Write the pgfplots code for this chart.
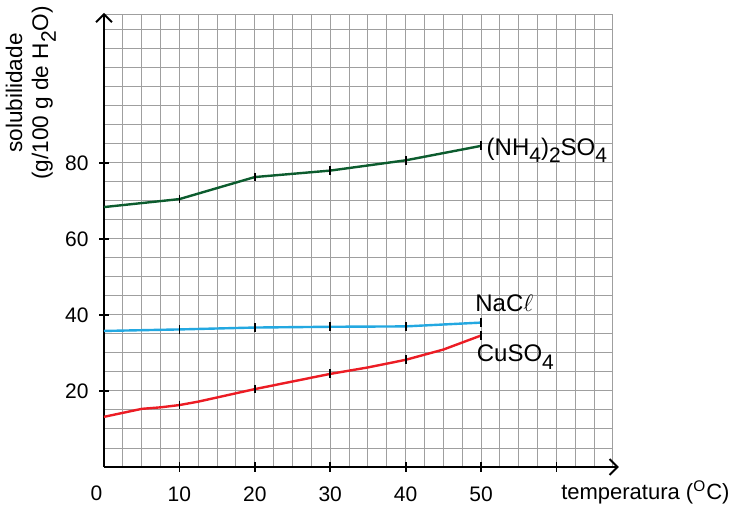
\documentclass[border=0pt]{standalone}
\usepackage{pgfplots}
\pgfplotsset{compat=1.18}
\usetikzlibrary{arrows.meta}
\usepackage{fontspec}
\setmainfont{Liberation Sans}
\definecolor{cgreen}{RGB}{12,92,46}
\definecolor{cblue}{RGB}{35,168,225}
\definecolor{cred}{RGB}{236,28,36}
\newcommand\sub[1]{\raisebox{-3.8pt}{\fontsize{10.5}{11}\selectfont #1}}
\begin{document}
\begin{tikzpicture}
\useasboundingbox (-52pt,-20pt) rectangle (313.5pt,233.5pt);
\begin{axis}[
  at={(0,0)}, anchor=south west,
  x=3.77pt, y=1.9pt,
  xmin=0, xmax=67.5, ymin=0, ymax=119,
  axis lines=left,
  clip=false,
  axis line style={line width=1pt, -{Straight Barb[length=4pt,width=8pt,line width=1pt]}},
  x axis line style={shorten >=-3pt},
  y axis line style={shorten >=-1pt},
  xtick={10,20,30,40,50,60},
  xticklabels={10,20,30,40,50,{}},
  ytick={20,40,60,80},
  minor xtick={2.5,5,...,67.5},
  minor ytick={5,10,...,115,119},
  grid=both,
  major grid style={gray!75, line width=0.5pt},
  minor grid style={gray!75, line width=0.5pt},
  tick align=center,
  major tick length=4.5pt,
  minor tick length=0pt,
  tick style={black, line width=0.9pt},
  /pgf/number format/assume math mode=true,
  tick label style={font=\fontsize{10.5}{12}\selectfont},
  xticklabel style={yshift=-4pt},
  yticklabel style={xshift=-2pt},
]
\addplot[cgreen, line width=1.2pt] coordinates {(0,68.4) (10,70.5) (20,76.3) (30,78.0) (40,80.7) (50,84.5)};
\addplot[cblue, line width=1.2pt] coordinates {(0,35.8) (10,36.2) (20,36.7) (30,36.9) (40,37.0) (50,38.0)};
\addplot[cred, line width=1.2pt] coordinates {(0,13.2) (5,15.3) (7.5,15.7) (10,16.3) (12.5,17.2) (20,20.5) (30,24.5) (35,26.2) (40,28.2) (45,30.9) (50,34.6)};
\addplot[only marks, mark=|, mark size=2.2pt, mark options={black, line width=0.9pt}] coordinates {(10,70.5) (20,76.3) (30,78.0) (40,80.7) (50,84.5)};
\addplot[only marks, mark=|, mark size=2.2pt, mark options={black, line width=0.9pt}] coordinates {(10,36.2) (20,36.7) (30,36.9) (40,37.0) (50,38.0)};
\addplot[only marks, mark=|, mark size=2.2pt, mark options={black, line width=0.9pt}] coordinates {(10,16.3) (20,20.5) (30,24.5) (40,28.2) (50,34.6)};
\node[anchor=base west, inner sep=0pt, font=\fontsize{12}{14}\selectfont] at (axis cs:50.7,82.1) {(NH\sub{4})\sub{2}SO\sub{4}};
\node[anchor=base west, inner sep=0pt, font=\fontsize{12}{14}\selectfont] at (axis cs:49.2,40.8) {NaC$\ell$};
\node[anchor=base west, inner sep=0pt, font=\fontsize{12}{14}\selectfont] at (axis cs:49.4,27.7) {CuSO\sub{4}};
\node[font=\fontsize{10.5}{12}\selectfont] at (axis cs:-1,-6.8) {0};
\node[font=\fontsize{11}{13}\selectfont] at (axis cs:71.8,-6.8) {temperatura (\textsuperscript{O}C)};
\node[rotate=90, align=center, font=\fontsize{11.3}{13}\selectfont] at (axis cs:-9.7,98.4) {solubilidade\\(g/100 g de H\sub{2}O)};
\end{axis}
\end{tikzpicture}
\end{document}
